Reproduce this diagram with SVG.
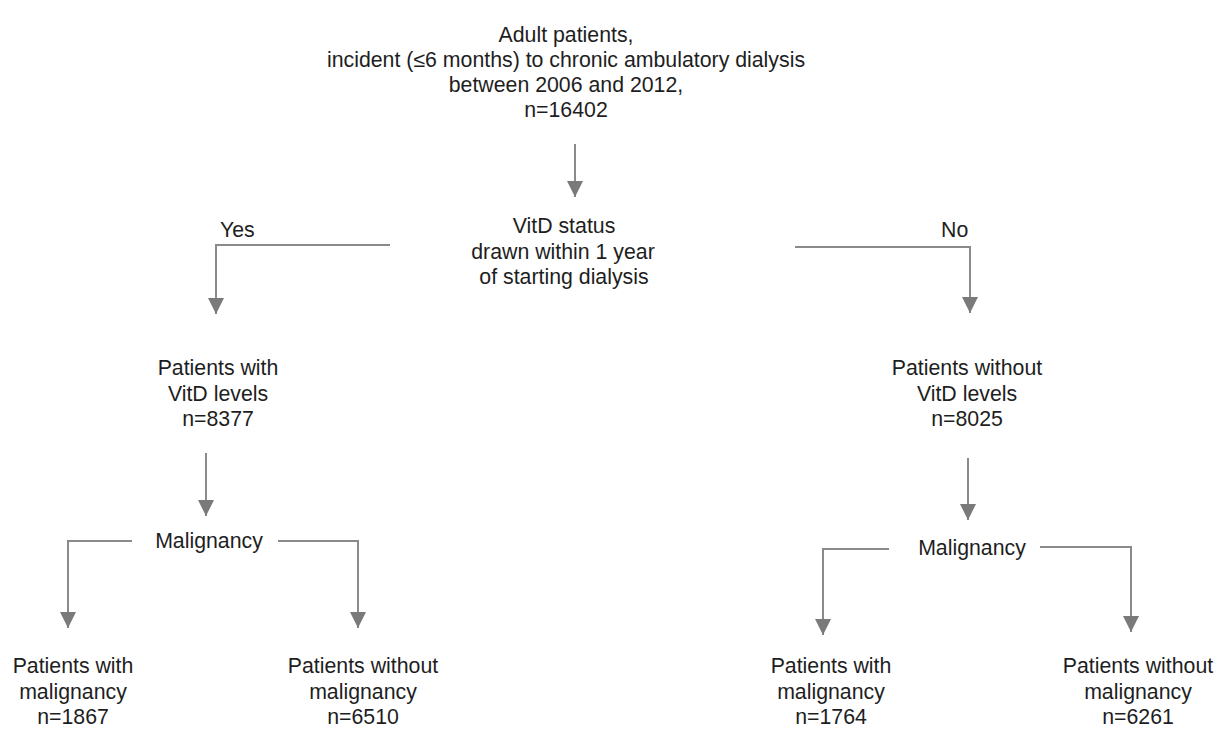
<svg xmlns="http://www.w3.org/2000/svg" width="1221" height="730" viewBox="0 0 1221 730">
<defs>
<marker id="arr" viewBox="0 0 16 16" refX="16" refY="8" markerWidth="16" markerHeight="16" markerUnits="userSpaceOnUse" orient="auto">
<path d="M0,0 L16,8 L0,16 z" fill="#7a7a7a"/>
</marker>
<style>
text{font-family:"Liberation Sans",Arial,sans-serif;font-size:21.3px;fill:#1e1e1e;text-anchor:middle}
.lbl{text-anchor:start}
.c{fill:none;stroke:#8a8a8a;stroke-width:2}
</style>
</defs>
<rect width="1221" height="730" fill="#ffffff"/>
<g id="connectors">
<path class="c" d="M575,144 V197" marker-end="url(#arr)"/>
<path class="c" d="M390,245 H216 V314" marker-end="url(#arr)"/>
<path class="c" d="M795,247 H970 V313" marker-end="url(#arr)"/>
<path class="c" d="M206,453 V516" marker-end="url(#arr)"/>
<path class="c" d="M968,458 V520" marker-end="url(#arr)"/>
<path class="c" d="M132,541 H68 V628" marker-end="url(#arr)"/>
<path class="c" d="M278,541 H358 V628" marker-end="url(#arr)"/>
<path class="c" d="M889,549 H823 V635" marker-end="url(#arr)"/>
<path class="c" d="M1040,547 H1131 V632" marker-end="url(#arr)"/>
<text class="lbl" x="220" y="237">Yes</text>
<text class="lbl" x="941" y="237">No</text>
</g>
<g id="start">
<text x="566" y="42">Adult patients,</text>
<text x="566" y="67">incident (≤6 months) to chronic ambulatory dialysis</text>
<text x="566" y="92">between 2006 and 2012,</text>
<text x="566" y="117">n=16402</text>
</g>
<g id="vitd-status">
<text x="564" y="233">VitD status</text>
<text x="563" y="259">drawn within 1 year</text>
<text x="564" y="284">of starting dialysis</text>
</g>
<g id="with-vitd">
<text x="218" y="375">Patients with</text>
<text x="218" y="401">VitD levels</text>
<text x="218" y="426">n=8377</text>
</g>
<g id="without-vitd">
<text x="967" y="375">Patients without</text>
<text x="967" y="401">VitD levels</text>
<text x="967" y="426">n=8025</text>
</g>
<g id="malignancy-left">
<text x="209" y="548">Malignancy</text>
</g>
<g id="malignancy-right">
<text x="972" y="555">Malignancy</text>
</g>
<g id="left-with-malig">
<text x="73" y="673">Patients with</text>
<text x="73" y="699">malignancy</text>
<text x="73" y="724">n=1867</text>
</g>
<g id="left-without-malig">
<text x="363" y="673">Patients without</text>
<text x="363" y="699">malignancy</text>
<text x="363" y="724">n=6510</text>
</g>
<g id="right-with-malig">
<text x="831" y="673">Patients with</text>
<text x="831" y="699">malignancy</text>
<text x="831" y="724">n=1764</text>
</g>
<g id="right-without-malig">
<text x="1138" y="673">Patients without</text>
<text x="1138" y="699">malignancy</text>
<text x="1138" y="724">n=6261</text>
</g>
</svg>
